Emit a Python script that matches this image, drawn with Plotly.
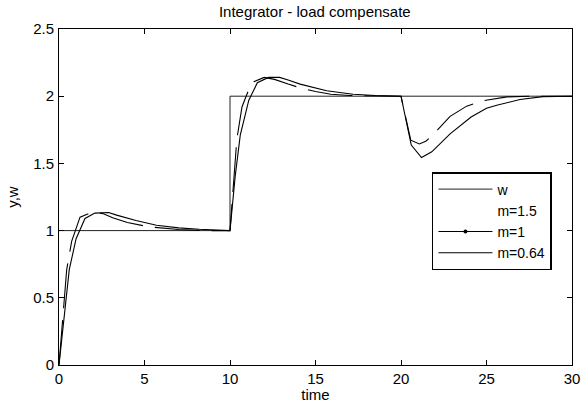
import plotly.graph_objects as go

# reference signal w
t_w = [0, 10, 10, 30]
y_w = [1, 1, 2, 2]

# m = 1.5 (drawn white in the original -> invisible)
t_m15 = [0, 0.4, 0.8, 1.4, 2.2, 3.2, 4.5, 6.0, 8.0, 10.0, 10.4, 10.8, 11.4, 12.2,
         13.2, 14.5, 16.0, 18.0, 20.0, 20.5, 21.0, 21.6, 22.5, 23.5, 24.5, 26.0, 28.0, 30.0]
y_m15 = [0, 0.66, 0.95, 1.11, 1.13, 1.10, 1.05, 1.02, 1.005, 1.0, 1.66, 1.95, 2.11, 2.13,
         2.10, 2.05, 2.02, 2.005, 2.0, 1.70, 1.68, 1.72, 1.82, 1.90, 1.95, 1.99, 2.0, 2.0]

# m = 1
t_m1 = [0, 0.15, 0.45, 0.74, 1.23, 2.0, 2.6, 3.14, 4.0, 5.0, 5.6, 7.0, 8.5, 10.0,
        10.15, 10.4, 10.7, 11.25, 12.0, 12.6, 13.4, 14.3, 15.0, 15.9, 17.0, 18.5, 20.0,
        20.57, 21.07, 21.45, 21.85, 22.87, 23.84, 24.75, 26.2, 27.5, 30.0]
y_m1 = [0, 0.24, 0.71, 0.92, 1.10, 1.14, 1.125, 1.095, 1.06, 1.035, 1.024, 1.008, 1.0, 1.0,
        1.25, 1.68, 1.92, 2.10, 2.14, 2.125, 2.09, 2.055, 2.035, 2.015, 2.005, 2.0, 2.0,
        1.673, 1.645, 1.665, 1.71, 1.85, 1.926, 1.965, 1.995, 2.0, 2.0]

# m = 0.64
t_m064 = [0, 0.3, 0.6, 1.0, 1.52, 2.1, 2.9, 3.37, 4.5, 5.7, 7.0, 8.2, 10.0, 10.3, 10.6,
          11.1, 11.6, 12.25, 12.9, 13.4, 14.1, 15.65, 17.2, 18.5, 20.0, 20.6, 21.2, 21.8,
          22.87, 24.1, 25.0, 25.6, 26.96, 28.3, 30.0]
y_m064 = [0, 0.38, 0.71, 0.94, 1.09, 1.13, 1.135, 1.115, 1.075, 1.04, 1.02, 1.01, 1.0, 1.4, 1.71,
          1.97, 2.1, 2.14, 2.14, 2.12, 2.09, 2.04, 2.015, 2.005, 2.0, 1.636, 1.544, 1.586,
          1.72, 1.845, 1.91, 1.933, 1.975, 1.997, 2.0]

FONT = "Liberation Sans, Arial, sans-serif"

fig = go.Figure()
fig.add_trace(go.Scatter(x=t_m15, y=y_m15, mode="lines", name="m=1.5",
                         line=dict(color="white", width=1), legendrank=2))
fig.add_trace(go.Scatter(x=t_w, y=y_w, mode="lines", name="w",
                         line=dict(color="#222222", width=1), legendrank=1))
fig.add_trace(go.Scatter(x=t_m1, y=y_m1, mode="lines", name="m=1", showlegend=False,
                         legendgroup="m1", line=dict(color="black", width=1.1, dash="45px,12px")))
fig.add_trace(go.Scatter(x=t_m064, y=y_m064, mode="lines", name="m=0.64",
                         line=dict(color="black", width=1.1), legendrank=4))
fig.add_trace(go.Scatter(x=[None], y=[None], mode="lines+markers", name="m=1",
                         legendgroup="m1", legendrank=3,
                         line=dict(color="black", width=1.1),
                         marker=dict(color="black", size=4)))

axis_common = dict(showline=True, linecolor="black", linewidth=1, mirror="ticks",
                   ticks="inside", ticklen=5, tickcolor="black", showgrid=False,
                   zeroline=False, automargin=False,
                   tickfont=dict(family=FONT, size=15, color="black"))

fig.update_layout(
    width=583, height=403,
    margin=dict(l=59, r=11, t=29, b=38),
    paper_bgcolor="white", plot_bgcolor="white",
    font=dict(family=FONT, size=15, color="black"),
    title=dict(text="Integrator - load compensate", x=0.54, xanchor="center",
               y=1 - 12 / 403, yanchor="middle", yref="container",
               font=dict(family=FONT, size=15, color="black")),
    xaxis=dict(range=[0, 30], dtick=5,
               title=dict(text="time", font=dict(family=FONT, size=15)),
               **axis_common),
    yaxis=dict(range=[0, 2.5], dtick=0.5, ticklabelstandoff=1,
               title=dict(text="y,w", standoff=10, font=dict(family=FONT, size=15)),
               **axis_common),
    legend=dict(x=0.727, y=0.5744, xanchor="left", yanchor="top",
                bgcolor="white", bordercolor="black", borderwidth=1.5,
                font=dict(family=FONT, size=14, color="black"),
                itemwidth=54, tracegroupgap=0),
    showlegend=True,
)

fig.write_html("out.html")
